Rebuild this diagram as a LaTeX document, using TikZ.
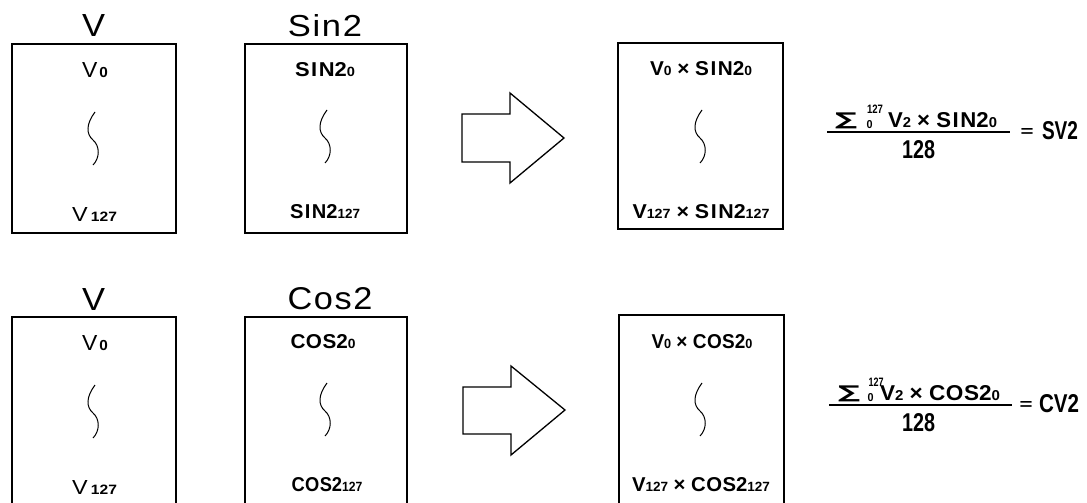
\documentclass[tikz,border=0pt]{standalone}
\usepackage{fontspec}
\setmainfont{Liberation Sans}
\newfontfamily\sumfont{DejaVu Sans}
\usepackage{graphicx}
\newcommand\sm[1]{{\fontsize{14}{14}\selectfont #1}}
\newcommand\fb[3]{\resizebox{#1pt}{#2pt}{#3}}
\newcommand\SIN{S\kern1.5pt I\kern1.5pt N}
\newcommand\COS{C\kern0.5pt O\kern0.5pt S}
\begin{document}
\begin{tikzpicture}[x=1pt,y=-1pt,
  every node/.style={inner sep=0pt, outer sep=0pt, font=\fontsize{21}{21}\selectfont},
  cond/.style={font=\fontsize{21}{21}\selectfont\bfseries},
  boxline/.style={line width=1.2pt},
  bigarrow/.style={line width=1.3pt, line join=miter},
  squig/.style={line width=1pt},
  fracbar/.style={line width=1.3pt},
  squiggle/.pic={\draw[squig] (1,0) .. controls (-8,12) and (-8,22) .. (-1,28) .. controls (6,34) and (6,46) .. (-1,53);}
]
\useasboundingbox (0,0) rectangle (1087,503);

% ---------------- top row ----------------
\draw[boxline] (12,44) rectangle (176,233);
\draw[boxline] (245,44) rectangle (407,233);
\draw[boxline] (618,43) rectangle (783,229);

\node (labV1) at (93.5,26) {\fb{23}{22}{V}};
\node (labS) at (325,26) {\fb{74}{22}{S\kern1pt i\kern1pt n\kern1pt 2}};

\node (v0a) at (95,70.5) {\fb{26}{15}{V\kern2pt\sm{\bfseries 0}}};
\node (v127a) at (94.5,214) {\fb{45}{14}{V\kern3pt\sm{\bfseries 127}}};
\pic at (94,112) {squiggle};

\node[cond] (s0) at (325,70) {\fb{60}{14}{\SIN2\sm{0}}};
\node[cond] (s127) at (325,212) {\fb{70}{14}{\SIN2\sm{127}}};
\pic at (326,110) {squiggle};

\draw[bigarrow] (462,114) -- (510,114) -- (510,93) -- (564,138) -- (510,183) -- (510,162) -- (462,162) -- cycle;

\node[cond] (r0a) at (701,69) {\fb{102}{14}{V\sm{0} × \SIN2\sm{0}}};
\node[cond] (r127a) at (701,212) {\fb{137}{14}{V\sm{127} × \SIN2\sm{127}}};
\pic at (701,110) {squiggle};

\node (sum1) at (846,120.5) {\resizebox*{22pt}{16pt}{\sumfont\bfseries ∑}};
\node[cond] (up1) at (875,109) {\fb{16}{8.5}{127}};
\node[cond] (lo1) at (869.5,124.5) {\fb{6}{8}{0}};
\node[cond] (num1) at (942.5,120.5) {\fb{109}{15}{V\sm{2} × \SIN2\sm{0}}};
\coordinate (f1a) at (827,132);
\coordinate (f1b) at (1010,132);
\draw[fracbar] (f1a) -- (f1b);
\node[cond] (den1) at (918.5,150) {\fb{33}{18}{128}};
\node[cond] (eq1) at (1027,132) {\fb{13}{8}{=}};
\node[cond] (res1) at (1060,131) {\fb{36}{18}{SV2}};

% ---------------- bottom row ----------------
\draw[boxline] (12,503) -- (12,317) -- (176,317) -- (176,503);
\draw[boxline] (245,503) -- (245,317) -- (407,317) -- (407,503);
\draw[boxline] (619,503) -- (619,315) -- (784,315) -- (784,503);

\node (labV2) at (93.5,299) {\fb{23}{22}{V}};
\node (labC) at (330,299) {\fb{85}{22}{C\kern1pt o\kern1pt s\kern1pt 2}};

\node (v0b) at (95,343.5) {\fb{26}{15}{V\kern2pt\sm{\bfseries 0}}};
\node (v127b) at (94.5,487) {\fb{45}{14}{V\kern3pt\sm{\bfseries 127}}};
\pic at (94,385) {squiggle};

\node[cond] (c0) at (323,342) {\fb{65}{14}{\COS2\sm{0}}};
\node[cond] (c127) at (327,485) {\fb{71}{14}{\COS2\sm{127}}};
\pic at (326,383) {squiggle};

\draw[bigarrow] (463,387) -- (511,387) -- (511,366) -- (565,410) -- (511,455) -- (511,434) -- (463,434) -- cycle;

\node[cond] (r0b) at (702,342) {\fb{101}{14}{V\sm{0} × \COS2\sm{0}}};
\node[cond] (r127b) at (701,485) {\fb{138}{14}{V\sm{127} × \COS2\sm{127}}};
\pic at (701,383) {squiggle};

\node (sum2) at (849,393.5) {\resizebox*{22pt}{16pt}{\sumfont\bfseries ∑}};
\node[cond] (up2) at (876,382) {\fb{15}{8.5}{127}};
\node[cond] (lo2) at (870.5,397.5) {\fb{6}{8}{0}};
\node[cond] (num2) at (940,393.5) {\fb{120}{15}{V\sm{2} × \COS2\sm{0}}};
\coordinate (f2a) at (829,405);
\coordinate (f2b) at (1012,405);
\draw[fracbar] (f2a) -- (f2b);
\node[cond] (den2) at (918.5,423) {\fb{33}{18}{128}};
\node[cond] (eq2) at (1026,405) {\fb{13}{8}{=}};
\node[cond] (res2) at (1059,404) {\fb{40}{18}{CV2}};
\end{tikzpicture}
\end{document}
